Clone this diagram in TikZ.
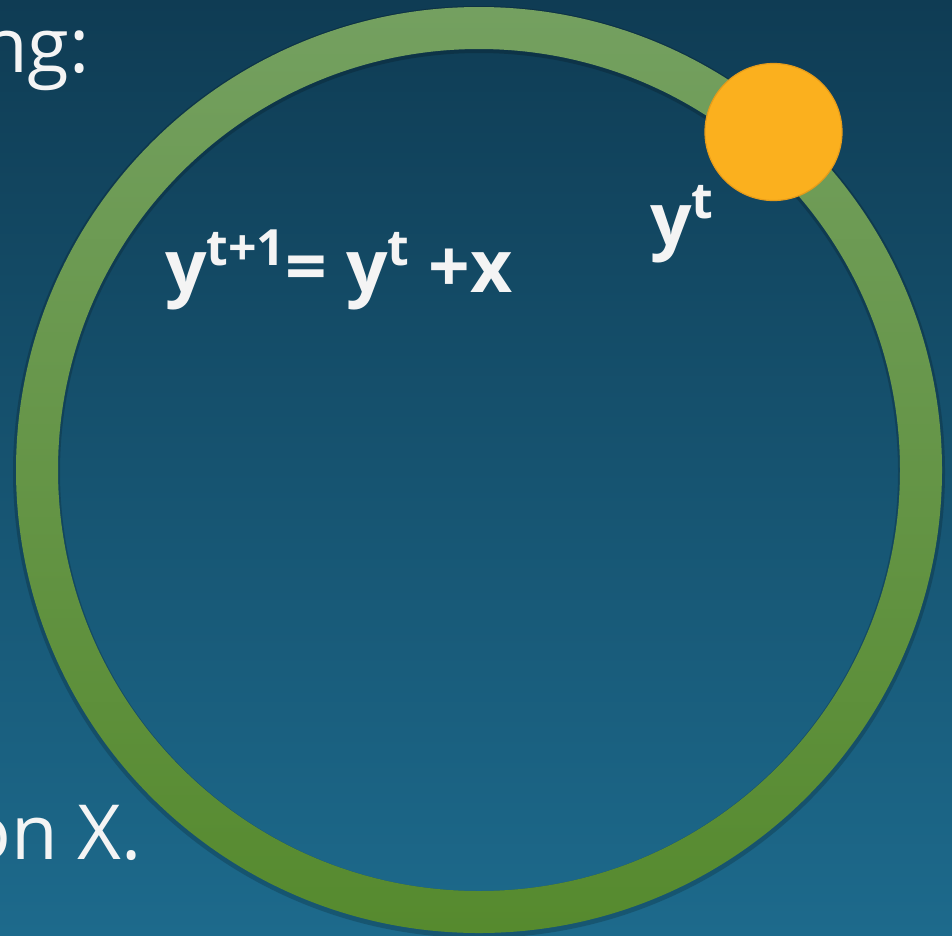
\documentclass[tikz,border=0pt]{standalone}
\usepackage{fontspec}
\setmainfont{Open Sans}
\usetikzlibrary{positioning}

\definecolor{bgtop}{HTML}{0F3C54}
\definecolor{bgbottom}{HTML}{1D6A8C}
\definecolor{ringtop}{HTML}{74A060}
\definecolor{ringbottom}{HTML}{568A2E}
\definecolor{dotfill}{HTML}{FBB01E}
\definecolor{dotline}{HTML}{E69C1A}
\definecolor{textwhite}{HTML}{F4F4F4}

\tikzset{
  slide text/.style={text=textwhite, inner sep=0pt, font=\fontsize{76}{80}\selectfont},
  formula/.style={slide text, font=\fontsize{73}{78}\selectfont\bfseries}
}
\newcommand{\supt}[1]{\raisebox{0.36em}{\fontsize{50}{54}\selectfont #1}}

\begin{document}
\begin{tikzpicture}[x=1pt,y=-1pt]
        \useasboundingbox (0,0) rectangle (952,935);
        \shade[top color=bgtop,bottom color=bgbottom] (0,0) rectangle (952,935);

        % the orbit
        \fill[black,opacity=0.18,even odd rule]
        (479,472) circle[radius=466] (479,472) circle[radius=419];
        \shade[even odd rule,top color=ringtop,bottom color=ringbottom]
        (479,470) circle[radius=463] (479,470) circle[radius=421];

        % current point
        \draw[dotline,fill=dotfill,line width=1.2pt] (773.5,132) circle[radius=68.5];

        \node[slide text,anchor=base east] (head) at (90,72) {ng:};
        \node[slide text,anchor=base east] (foot) at (142,859) {on X.};
        \node[formula,anchor=base west] (update) at (165,292) {y\supt{t+1}= y\supt{t} +x};
        \node[formula,anchor=base west] (current) at (650,245) {y\supt{t}};
    \end{tikzpicture}
\end{document}
